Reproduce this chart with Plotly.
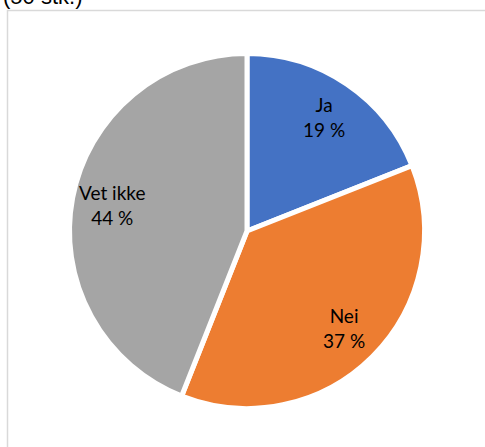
import math
import plotly.graph_objects as go

categories = ["Ja", "Nei", "Vet ikke"]
values = [19, 37, 44]
colors = ["#4472C4", "#ED7D31", "#A5A5A5"]
title_text = "(50 stk.)"

W, H = 485, 447
cx, cy, r = 247, 231, 177.5
label_frac = 0.775

fig = go.Figure(go.Pie(
    labels=categories,
    values=values,
    sort=False,
    direction="clockwise",
    rotation=0,
    marker=dict(colors=colors, line=dict(color="white", width=5)),
    textinfo="none",
    domain=dict(x=[(cx - r) / W, (cx + r) / W], y=[(H - cy - r) / H, (H - cy + r) / H]),
    showlegend=False,
    hoverinfo="skip",
))

# data labels placed along each slice bisector
annotations = []
total = sum(values)
cum = 0
for lab, v in zip(categories, values):
    mid = (cum + v / 2) / total * 2 * math.pi
    cum += v
    px = cx + label_frac * r * math.sin(mid)
    py = cy - label_frac * r * math.cos(mid)
    annotations.append(dict(
        text=f"{lab}<br>{v} %", xref="paper", yref="paper",
        x=px / W, y=(H - py) / H, xanchor="center", yanchor="middle",
        showarrow=False,
        font=dict(family="Lato, 'Open Sans', sans-serif", size=19, color="black")))

annotations.append(dict(text=title_text, xref="paper", yref="paper",
                        x=1 / W, y=(H - 11) / H, xanchor="left", yanchor="bottom",
                        showarrow=False,
                        font=dict(family="Liberation Sans, Arial, sans-serif", size=22, color="black")))

fig.update_layout(
    width=W, height=H,
    margin=dict(l=0, r=0, t=0, b=0),
    paper_bgcolor="white",
    plot_bgcolor="white",
    shapes=[dict(type="rect", xref="paper", yref="paper",
                 x0=7.5 / W, y0=-0.05, x1=1.05, y1=(H - 10.5) / H,
                 line=dict(color="#D9D9D9", width=1.5), fillcolor="rgba(0,0,0,0)")],
    annotations=annotations,
)

fig.write_html("out.html", config={"displayModeBar": False, "staticPlot": True},
               post_script="document.body.style.margin='0';")
